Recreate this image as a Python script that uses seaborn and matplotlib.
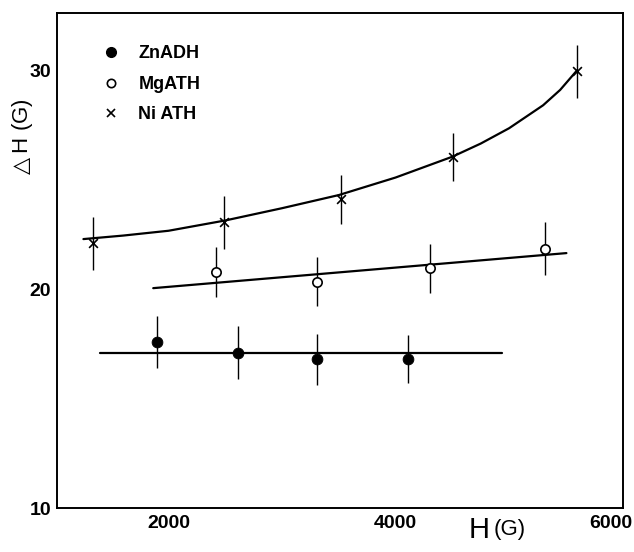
import matplotlib
matplotlib.use("Agg")
import matplotlib.pyplot as plt
import matplotlib.transforms as mtransforms
import pandas as pd
import seaborn as sns
from matplotlib.lines import Line2D

# ---------------------------------------------------------------------------
# Data
# ---------------------------------------------------------------------------

zn_h = [1900, 2615, 3310, 4110]
zn_dh = [17.6, 17.1, 16.8, 16.8]
zn_err = [1.2, 1.2, 1.15, 1.1]
zn_fit_h = [1400, 4940]
zn_fit_dh = [17.1, 17.1]

mg_h = [2420, 3305, 4300, 5315]
mg_dh = [20.8, 20.35, 20.95, 21.85]
mg_err = [1.15, 1.1, 1.1, 1.2]
mg_fit_h = [1865, 5505]
mg_fit_dh = [20.05, 21.65]

ni_h = [1330, 2490, 3515, 4505, 5600]
ni_dh = [22.1, 23.05, 24.1, 26.05, 29.95]
ni_err = [1.2, 1.2, 1.1, 1.1, 1.2]
ni_fit_h = [1250, 1600, 2000, 2500, 3000, 3500, 4000, 4500, 4750, 5000, 5300, 5450, 5600]
ni_fit_dh = [22.29, 22.45, 22.67, 23.14, 23.7, 24.3, 25.1, 26.05, 26.65, 27.35, 28.4, 29.1, 30.0]

x_ticks = [2000, 4000, 6000]
y_ticks = [10, 20, 30]

# ---------------------------------------------------------------------------
# Style
# ---------------------------------------------------------------------------

sns.set_theme(style="white")
plt.rcParams["font.family"] = ["Liberation Sans", "DejaVu Sans"]
plt.rcParams["text.color"] = "black"

fig = plt.figure(figsize=(6.34, 5.52), dpi=100)
ax = fig.add_axes([0.0904, 0.0792, 0.8916, 0.8968])

# fitted lines
sns.lineplot(x=zn_fit_h, y=zn_fit_dh, color="black", linewidth=1.6, sort=False, ax=ax)
sns.lineplot(x=mg_fit_h, y=mg_fit_dh, color="black", linewidth=1.6, sort=False, ax=ax)
sns.lineplot(x=ni_fit_h, y=ni_fit_dh, color="black", linewidth=1.6, sort=False, ax=ax)

# error bars
for h, dh, err in [(zn_h, zn_dh, zn_err), (mg_h, mg_dh, mg_err), (ni_h, ni_dh, ni_err)]:
    ax.errorbar(h, dh, yerr=err, fmt="none", ecolor="black", elinewidth=1.0, capsize=0)

# points
zn = pd.DataFrame({"H": zn_h, "dH": zn_dh})
mg = pd.DataFrame({"H": mg_h, "dH": mg_dh})
ni = pd.DataFrame({"H": ni_h, "dH": ni_dh})
sns.scatterplot(data=zn, x="H", y="dH", marker="o", s=60, color="black", edgecolor="black", ax=ax, zorder=5)
sns.scatterplot(data=mg, x="H", y="dH", marker="o", s=45, facecolor="white", edgecolor="black",
                linewidth=1.2, ax=ax, zorder=5)
sns.scatterplot(data=ni, x="H", y="dH", marker="x", s=40, color="black", linewidth=1.2, ax=ax, zorder=5)

ax.set_xlim(1020, 6000)
ax.set_ylim(10, 32.6)
ax.set_xticks(x_ticks)
ax.set_yticks(y_ticks)
ax.set_xticklabels([str(t) for t in x_ticks], fontsize=14, fontweight="bold", color="black")
ax.set_yticklabels([str(t) for t in y_ticks], fontsize=14, fontweight="bold", color="black")
ax.tick_params(axis="x", direction="in", length=7, width=1.2, pad=5, colors="black")
ax.tick_params(axis="y", direction="inout", length=9, width=1.2, pad=0, colors="black")

# keep the last x label inside the figure
shift = mtransforms.ScaledTranslation(-12 / 100, 0, fig.dpi_scale_trans)
last = ax.get_xticklabels()[-1]
last.set_transform(last.get_transform() + shift)

for sp in ax.spines.values():
    sp.set_color("black")
    sp.set_linewidth(1.4)

ax.set_xlabel("")
ax.set_ylabel("")
fig.text(0.036, 0.748, "$\\triangle$H (G)", rotation=90, ha="center", va="center",
         fontsize=16, color="black")
fig.text(0.772, 0.040, "H", ha="right", va="center", fontsize=21, color="black")
fig.text(0.778, 0.040, "(G)", ha="left", va="center", fontsize=16, color="black")

handles = [
    Line2D([], [], linestyle="none", marker="o", markersize=7, color="black"),
    Line2D([], [], linestyle="none", marker="o", markersize=6, markerfacecolor="white",
           markeredgecolor="black", markeredgewidth=1.2),
    Line2D([], [], linestyle="none", marker="x", markersize=6, color="black", markeredgewidth=1.2),
]
leg = ax.legend(handles, ["ZnADH", "MgATH", "Ni ATH"], loc="upper left", bbox_to_anchor=(0.035, 0.968),
                frameon=False, handletextpad=0.5, labelspacing=0.75,
                prop={"size": 13, "weight": "bold"})
for t in leg.get_texts():
    t.set_color("black")

fig.savefig("out.png", dpi=100)
